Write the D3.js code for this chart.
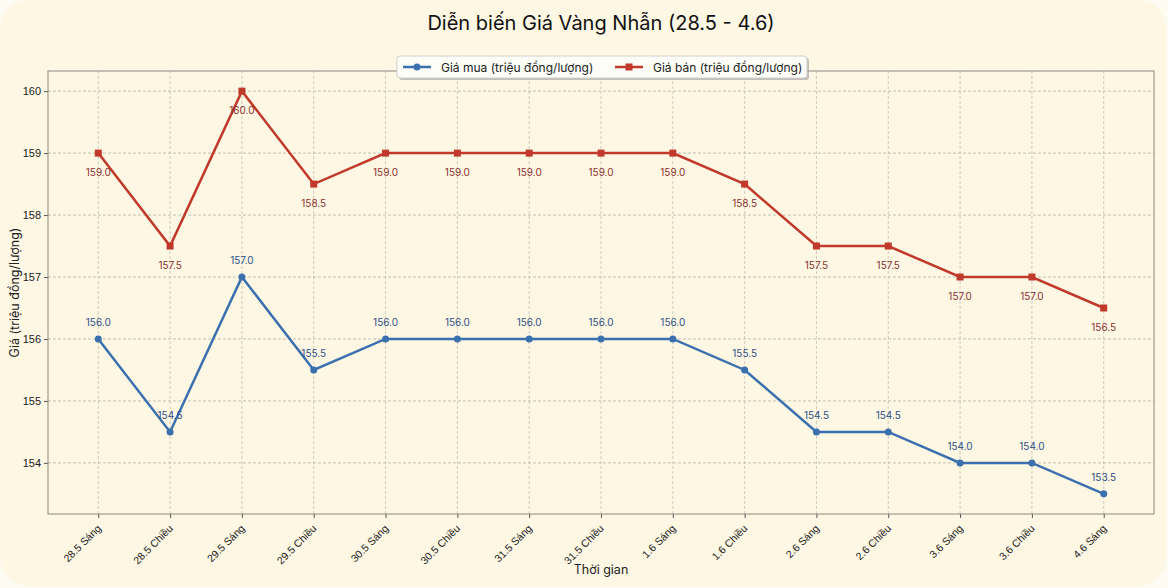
<!DOCTYPE html>
<html>
<head>
<meta charset="utf-8">
<script src="https://cdn.jsdelivr.net/npm/d3@7"></script>
<style>
  body { margin: 0; background: #fdfbf2; }
  svg { display: block; font-family: Inter, "Noto Sans", sans-serif; }
</style>
</head>
<body>
<div class="canvas"></div>
<script>
const labels = ['28.5 Sáng', '28.5 Chiều', '29.5 Sáng', '29.5 Chiều', '30.5 Sáng', '30.5 Chiều',
    '31.5 Sáng', '31.5 Chiều', '1.6 Sáng', '1.6 Chiều', '2.6 Sáng', '2.6 Chiều',
    '3.6 Sáng', '3.6 Chiều', '4.6 Sáng'];
const buyPrices = [156, 154.5, 157, 155.5, 156, 156, 156, 156, 156, 155.5, 154.5, 154.5, 154, 154, 153.5];
const sellPrices = [159, 157.5, 160, 158.5, 159, 159, 159, 159, 159, 158.5, 157.5, 157.5, 157, 157, 156.5];
const yTicks = [154, 155, 156, 157, 158, 159, 160];

const dimensions = { width: 1168, height: 588 };
const plot = { left: 48, right: 1154, top: 71, bottom: 514 };

const svg = d3.select('.canvas')
    .append('svg')
    .attr('width', dimensions.width)
    .attr('height', dimensions.height);

// rounded cream background
svg.append('rect')
    .attr('x', 0).attr('y', 0)
    .attr('width', dimensions.width - 2).attr('height', dimensions.height - 2)
    .attr('rx', 28)
    .attr('fill', '#fdf7e4');

const x = d3.scaleLinear()
    .domain([-0.7, labels.length - 1 + 0.7])
    .range([plot.left, plot.right]);

const y = d3.scaleLinear()
    .domain([153.175, 160.325])
    .range([plot.bottom, plot.top]);

// grid
const grid = svg.append('g');
grid.selectAll('.vgrid')
    .data(labels)
    .enter().append('line')
    .attr('x1', (d, i) => x(i)).attr('x2', (d, i) => x(i))
    .attr('y1', plot.top).attr('y2', plot.bottom)
    .attr('stroke', '#c4c2b4').attr('stroke-width', 0.8)
    .attr('stroke-dasharray', '3,2');
grid.selectAll('.hgrid')
    .data(yTicks)
    .enter().append('line')
    .attr('x1', plot.left).attr('x2', plot.right)
    .attr('y1', d => y(d)).attr('y2', d => y(d))
    .attr('stroke', '#b2b2a6').attr('stroke-width', 0.8)
    .attr('stroke-dasharray', '3,2');

// axes
const xAxis = svg.append('g')
    .attr('transform', `translate(0, ${plot.bottom})`)
    .call(d3.axisBottom(x).tickValues(d3.range(labels.length)).tickFormat(i => labels[i]).tickSizeOuter(0).tickSize(4));
xAxis.select('.domain').remove();
xAxis.selectAll('line').attr('stroke', '#555');
xAxis.selectAll('text')
    .attr('font-size', 10.5)
    .attr('fill', '#222')
    .attr('text-anchor', 'end')
    .attr('dy', null)
    .attr('y', 0)
    .attr('transform', 'translate(3, 15) rotate(-45)');

const yAxis = svg.append('g')
    .attr('transform', `translate(${plot.left}, 0)`)
    .call(d3.axisLeft(y).tickValues(yTicks).tickFormat(d3.format('d')).tickSize(4));
yAxis.select('.domain').remove();
yAxis.selectAll('line').attr('stroke', '#555');
yAxis.selectAll('text').attr('font-size', 11).attr('fill', '#222');

svg.append('rect')
    .attr('x', plot.left).attr('y', plot.top)
    .attr('width', plot.right - plot.left).attr('height', plot.bottom - plot.top)
    .attr('fill', 'none').attr('stroke', '#8a8a80').attr('stroke-width', 1);

// lines
const line = d3.line().x((d, i) => x(i)).y(d => y(d));

svg.append('path')
    .datum(buyPrices)
    .attr('fill', 'none').attr('stroke', '#3a70ae').attr('stroke-width', 2.5)
    .attr('d', line);
svg.append('path')
    .datum(sellPrices)
    .attr('fill', 'none').attr('stroke', '#c0392b').attr('stroke-width', 2.5)
    .attr('d', line);

svg.selectAll('.buyDot')
    .data(buyPrices)
    .enter().append('circle')
    .attr('cx', (d, i) => x(i)).attr('cy', d => y(d))
    .attr('r', 3.5).attr('fill', '#3a70ae');
svg.selectAll('.sellDot')
    .data(sellPrices)
    .enter().append('rect')
    .attr('x', (d, i) => x(i) - 3.5).attr('y', d => y(d) - 3.5)
    .attr('width', 7).attr('height', 7).attr('fill', '#c0392b');

// value labels
svg.selectAll('.buyLabel')
    .data(buyPrices)
    .enter().append('text')
    .attr('x', (d, i) => x(i)).attr('y', d => y(d) - 13)
    .attr('text-anchor', 'middle').attr('font-size', 10)
    .attr('fill', '#2c4f86')
    .text(d => d.toFixed(1));
svg.selectAll('.sellLabel')
    .data(sellPrices)
    .enter().append('text')
    .attr('x', (d, i) => x(i)).attr('y', d => y(d) + 23)
    .attr('text-anchor', 'middle').attr('font-size', 10)
    .attr('fill', '#8c3030')
    .text(d => d.toFixed(1));

// title and axis labels
svg.append('text')
    .attr('x', 601).attr('y', 30)
    .attr('text-anchor', 'middle').attr('font-size', 20)
    .attr('fill', '#111')
    .text('Diễn biến Giá Vàng Nhẫn (28.5 - 4.6)');
svg.append('text')
    .attr('x', 601).attr('y', 574)
    .attr('text-anchor', 'middle').attr('font-size', 12.5)
    .attr('fill', '#222')
    .text('Thời gian');
svg.append('text')
    .attr('transform', `translate(19, ${(plot.top + plot.bottom) / 2}) rotate(-90)`)
    .attr('text-anchor', 'middle').attr('font-size', 12.5)
    .attr('fill', '#222')
    .text('Giá (triệu đồng/lượng)');

// legend
const legend = svg.append('g').attr('transform', 'translate(397, 56)');
legend.append('rect')
    .attr('x', 2).attr('y', 2).attr('width', 410).attr('height', 22).attr('rx', 3)
    .attr('fill', '#9a9a9a').attr('opacity', 0.6);
legend.append('rect')
    .attr('x', 0).attr('y', 0).attr('width', 410).attr('height', 22).attr('rx', 3)
    .attr('fill', '#fdfdf8').attr('stroke', '#cfcfcf');
const legendItems = [
    { name: 'Giá mua (triệu đồng/lượng)', color: '#3a70ae', marker: 'circle', x: 6 },
    { name: 'Giá bán (triệu đồng/lượng)', color: '#c0392b', marker: 'square', x: 218 }
];
legendItems.forEach(item => {
    const g = legend.append('g').attr('transform', `translate(${item.x}, 11)`);
    g.append('line').attr('x1', 0).attr('x2', 28).attr('stroke', item.color).attr('stroke-width', 2.5);
    if (item.marker === 'circle') {
        g.append('circle').attr('cx', 14).attr('r', 3.5).attr('fill', item.color);
    } else {
        g.append('rect').attr('x', 10.5).attr('y', -3.5).attr('width', 7).attr('height', 7).attr('fill', item.color);
    }
    g.append('text').attr('x', 38).attr('y', 4.5).attr('font-size', 12).attr('fill', '#222').text(item.name);
});
</script>
</body>
</html>
